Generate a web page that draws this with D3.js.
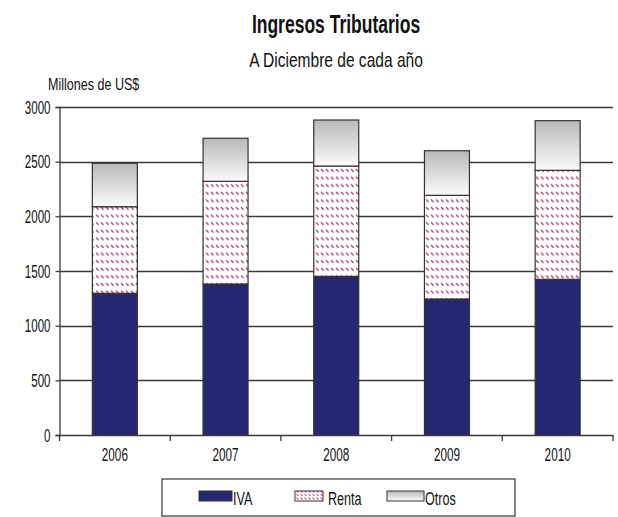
<!DOCTYPE html>
<html>
<head>
<meta charset="utf-8">
<script src="https://cdn.jsdelivr.net/npm/d3@7"></script>
<style>
  html, body { margin: 0; padding: 0; background: #fff; }
  svg { display: block; }
  text { font-family: "Liberation Sans", Arial, sans-serif; fill: #111; }
</style>
</head>
<body>
<svg id="chart" width="618" height="517"></svg>
<script>
const categories = ["2006", "2007", "2008", "2009", "2010"];
const seriesNames = ["IVA", "Renta", "Otros"];
const ivaValues = [1296, 1381, 1451, 1244, 1424];
const rentaValues = [792, 939, 1009, 948, 997];
const otrosValues = [397, 394, 421, 408, 454];
const yTicks = [0, 500, 1000, 1500, 2000, 2500, 3000];
const titleText = "Ingresos Tributarios";
const subtitleText = "A Diciembre de cada año";
const unitText = "Millones de US$";

const K = 0.68; // horizontal condensing to mimic narrow font
function condense(sel, k) {
  sel.each(function () {
    const n = this.getComputedTextLength();
    d3.select(this).attr("textLength", n * (k || K)).attr("lengthAdjust", "spacingAndGlyphs");
  });
}

const svg = d3.select("#chart");
const x0 = 59.5, x1 = 613;
const yBase = 435, yTop = 107;

const defs = svg.append("defs");
const grad = defs.append("linearGradient").attr("id", "otrosGrad")
  .attr("x1", 0).attr("y1", 0).attr("x2", 0).attr("y2", 1);
grad.append("stop").attr("offset", "0%").attr("stop-color", "#b9b9b9");
grad.append("stop").attr("offset", "100%").attr("stop-color", "#fbfbfb");

const pat = defs.append("pattern").attr("id", "rentaPat")
  .attr("patternUnits", "userSpaceOnUse").attr("width", 5).attr("height", 7.6);
pat.append("rect").attr("width", 5).attr("height", 7.6).attr("fill", "#ffffff");
pat.append("path").attr("d", "M1,2 L3.6,4.6").attr("stroke", "#b03a78").attr("stroke-width", 1.3).attr("fill", "none");

const legPat = defs.append("pattern").attr("id", "rentaLegPat")
  .attr("patternUnits", "userSpaceOnUse").attr("width", 4).attr("height", 3.5);
legPat.append("rect").attr("width", 4).attr("height", 3.5).attr("fill", "#ffffff");
legPat.append("path").attr("d", "M0.5,0.5 L2.5,2.5").attr("stroke", "#b03a78").attr("stroke-width", 1).attr("fill", "none");

const fills = { IVA: "#262770", Renta: "url(#rentaPat)", Otros: "url(#otrosGrad)" };

const xBand = d3.scaleBand().domain(categories).range([x0, x1]);
const yScale = d3.scaleLinear().domain([0, 3000]).range([yBase, yTop]);

// Titles
svg.append("text").attr("x", 336).attr("y", 33).attr("text-anchor", "middle")
  .style("font-size", "25px").style("font-weight", "bold").text(titleText).call(condense, 0.70);
svg.append("text").attr("x", 336).attr("y", 67).attr("text-anchor", "middle")
  .style("font-size", "21px").text(subtitleText).call(condense, 0.74);
svg.append("text").attr("x", 48).attr("y", 90)
  .style("font-size", "16.5px").text(unitText).call(condense, 0.76);

// Gridlines
svg.append("g").selectAll("line").data(yTicks.filter(d => d > 0)).join("line")
  .attr("x1", x0).attr("x2", x1)
  .attr("y1", d => Math.round(yScale(d)) + 0.5).attr("y2", d => Math.round(yScale(d)) + 0.5)
  .attr("stroke", "#3a3a3a").attr("stroke-width", 1.3);

// Stacked bars
const table = categories.map((c, i) => ({ cat: c, IVA: ivaValues[i], Renta: rentaValues[i], Otros: otrosValues[i] }));
const stack = d3.stack().keys(seriesNames)(table);
const barW = 45;
svg.append("g").selectAll("g").data(stack).join("g")
  .attr("fill", d => fills[d.key])
  .selectAll("rect").data(d => d).join("rect")
  .attr("x", d => xBand(d.data.cat) + xBand.bandwidth() / 2 - barW / 2)
  .attr("width", barW)
  .attr("y", d => yScale(d[1]))
  .attr("height", d => yScale(d[0]) - yScale(d[1]))
  .attr("stroke", "#333").attr("stroke-width", 1.2);

// Y axis
const yAxis = d3.axisLeft(yScale).tickValues(yTicks).tickSize(4).tickPadding(5).tickFormat(d3.format("d"));
const gy = svg.append("g").attr("transform", `translate(${x0},0)`).call(yAxis);
gy.select(".domain").attr("stroke", "#3a3a3a").attr("stroke-width", 1.3);
gy.selectAll(".tick line").attr("stroke", "#3a3a3a").attr("stroke-width", 1.3);
gy.selectAll(".tick text").style("font-size", "17.5px").style("font-family", null).attr("fill", "#111")
  .attr("dy", "0.36em").call(condense, 0.66);

// X axis
const xAxis = d3.axisBottom(xBand).tickSize(0).tickPadding(14);
const gx = svg.append("g").attr("transform", `translate(0,${yBase})`).call(xAxis);
gx.select(".domain").attr("stroke", "#3a3a3a").attr("stroke-width", 1.3);
gx.selectAll(".tick text").style("font-size", "17.5px").style("font-family", null).attr("fill", "#111")
  .attr("dy", "0.71em").call(condense, 0.67);
const bounds = categories.map(c => xBand(c)).concat([x1]);
svg.append("g").selectAll("line").data(bounds).join("line")
  .attr("x1", d => d).attr("x2", d => d)
  .attr("y1", yBase).attr("y2", yBase + 6)
  .attr("stroke", "#3a3a3a").attr("stroke-width", 1.3);

// Legend
const lg = svg.append("g");
lg.append("rect").attr("x", 162).attr("y", 479).attr("width", 353).attr("height", 37)
  .attr("fill", "#fff").attr("stroke", "#333").attr("stroke-width", 1.2);
const legendItems = [
  { key: "IVA", sx: 199, sw: 33, tx: 233 },
  { key: "Renta", sx: 295, sw: 28, tx: 328 },
  { key: "Otros", sx: 387, sw: 37, tx: 425 }
];
legendItems.forEach(it => {
  lg.append("rect").attr("x", it.sx).attr("y", 491).attr("width", it.sw).attr("height", 10)
    .attr("fill", it.key === "Renta" ? "url(#rentaLegPat)" : fills[it.key])
    .attr("stroke", "#333").attr("stroke-width", 1);
  lg.append("text").attr("x", it.tx).attr("y", 505).style("font-size", "17.5px").text(it.key).call(condense, 0.72);
});
</script>
</body>
</html>
